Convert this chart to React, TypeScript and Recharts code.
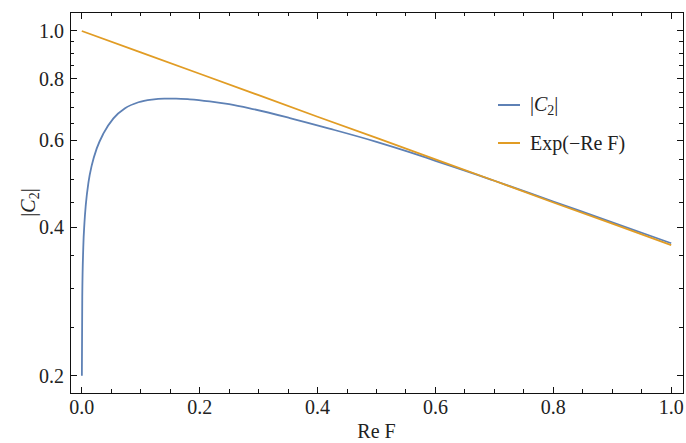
import React from 'react';
import { LineChart, Line, XAxis, YAxis, Legend, ReferenceArea } from 'recharts';

// Re F values and |C2|
const reF = [
  0.00015, 0.0008, 0.0025, 0.0045, 0.0068, 0.0114, 0.0169, 0.0254, 0.0368, 0.0537,
  0.0734, 0.0961, 0.119, 0.14, 0.16, 0.183, 0.217, 0.25, 0.285, 0.353,
  0.42, 0.5, 0.556, 0.6, 0.67, 0.7, 0.8, 0.9, 1.0
];
const c2Abs = [
  0.2, 0.289, 0.363, 0.408, 0.444, 0.494, 0.534, 0.578, 0.62, 0.665,
  0.697, 0.717, 0.726, 0.7292, 0.7295, 0.727, 0.72, 0.7106, 0.697, 0.666,
  0.634, 0.596, 0.568, 0.5455, 0.5115, 0.497, 0.451, 0.4094, 0.3712
];

// Exp(-Re F) reference line
const expX = [0, 0.1, 0.2, 0.3, 0.4, 0.5, 0.6, 0.7, 0.8, 0.9, 1.0];
const expY = [1.0, 0.905, 0.819, 0.741, 0.67, 0.607, 0.549, 0.497, 0.449, 0.407, 0.368];

const xTicks = [
  0, 0.05, 0.1, 0.15, 0.2, 0.25, 0.3, 0.35, 0.4, 0.45, 0.5,
  0.55, 0.6, 0.65, 0.7, 0.75, 0.8, 0.85, 0.9, 0.95, 1.0
];
const yTicks = [
  0.2, 0.25, 0.3, 0.35, 0.4, 0.45, 0.5, 0.55, 0.6, 0.65, 0.7, 0.75, 0.8, 0.85, 0.9, 0.95, 1.0
];

const xDomain = [-0.02, 1.02];
const yDomain = [0.1845, 1.0927];

const c2Data = reF.map((x, i) => ({ x, y: c2Abs[i] }));
const expData = expX.map((x, i) => ({ x, y: expY[i] }));

const FONT = "'Liberation Serif', 'Times New Roman', serif";
const FRAME = '#111';
const BLUE = '#5E81B5';
const ORANGE = '#E19C24';
const FS = 20;

// plot is 613 x 381 px; used only to turn tick sizes into data units
const PX_PER_X = 613 / (xDomain[1] - xDomain[0]);
const PX_PER_LNY = 381 / Math.log(yDomain[1] / yDomain[0]);

const isMajor = (v: number) => Math.abs(v * 5 - Math.round(v * 5)) < 1e-6;
const tickLen = (v: number) => (isMajor(v) ? 6.5 : 4);

const XTick = ({ x, y, payload }: any) =>
  isMajor(payload.value) ? (
    <text x={x} y={y + 21} textAnchor="middle" fontFamily={FONT} fontSize={FS} fill="#222">
      {payload.value.toFixed(1)}
    </text>
  ) : (
    <g />
  );

const YTick = ({ x, y, payload }: any) =>
  isMajor(payload.value) ? (
    <text x={x - 6} y={y} dy="0.35em" textAnchor="end" fontFamily={FONT} fontSize={FS} fill="#222">
      {payload.value.toFixed(1)}
    </text>
  ) : (
    <g />
  );

const YLabel = ({ viewBox }: any) => {
  const cx = viewBox.x + 28;
  const cy = viewBox.y + viewBox.height / 2;
  return (
    <text
      x={cx}
      y={cy}
      dy="0.35em"
      textAnchor="middle"
      transform={`rotate(-90 ${cx} ${cy})`}
      fontFamily={FONT}
      fontSize={FS}
      fill="#222"
    >
      |<tspan fontStyle="italic">C</tspan>
      <tspan fontSize={14} dy={4}>2</tspan>
      <tspan dy={-4}>|</tspan>
    </text>
  );
};

const XLabel = ({ viewBox }: any) => (
  <text
    x={viewBox.x + viewBox.width / 2}
    y={viewBox.y + 45}
    textAnchor="middle"
    fontFamily={FONT}
    fontSize={FS}
    fill="#222"
  >
    Re F
  </text>
);

const LegendBox = ({ payload }: any) => (
  <div style={{ fontFamily: FONT, fontSize: FS, color: '#222' }}>
    {(payload || []).map((entry: any, i: number) => (
      <div key={i} style={{ display: 'flex', alignItems: 'center', height: 38 }}>
        <div style={{ width: 22, height: 2, background: entry.color, marginRight: 10 }} />
        {entry.value === 'C2' ? (
          <span style={{ lineHeight: '20px' }}>
            |<i>C</i>
            <span style={{ fontSize: 14, position: 'relative', top: 4 }}>2</span>|
          </span>
        ) : (
          <span style={{ lineHeight: '20px' }}>{entry.value}</span>
        )}
      </div>
    ))}
  </div>
);

// tick marks drawn as tiny filled areas on the frame
const tickMark = {
  fill: FRAME,
  fillOpacity: 1,
  stroke: 'none',
  shapeRendering: 'crispEdges',
  ifOverflow: 'visible' as const,
};

const App: React.FC = () => {
  const halfX = 0.5 / PX_PER_X;
  const halfY = Math.exp(0.5 / PX_PER_LNY);
  return (
    <div style={{ position: 'absolute', left: 0, top: 0 }}>
      <LineChart width={686} height={443} margin={{ top: 12, right: 3, left: 0, bottom: 0 }}>
        <XAxis
          type="number"
          dataKey="x"
          domain={xDomain}
          allowDataOverflow
          ticks={xTicks}
          interval={0}
          height={50}
          tickSize={0}
          tickMargin={0}
          tickLine={false}
          axisLine={false}
          tick={(p: any) => <XTick {...p} />}
          label={<XLabel />}
        />
        <YAxis
          type="number"
          scale="log"
          domain={yDomain}
          allowDataOverflow
          ticks={yTicks}
          interval={0}
          width={70}
          tickSize={0}
          tickMargin={0}
          tickLine={false}
          axisLine={false}
          tick={(p: any) => <YTick {...p} />}
          label={<YLabel />}
        />
        <ReferenceArea
          x1={xDomain[0]}
          x2={xDomain[1]}
          y1={yDomain[0]}
          y2={yDomain[1]}
          fill="none"
          fillOpacity={0}
          stroke={FRAME}
          strokeWidth={1}
          shapeRendering="crispEdges"
          ifOverflow="visible"
        />
        {xTicks.map((v) => {
          const k = Math.exp(tickLen(v) / PX_PER_LNY);
          return (
            <React.Fragment key={`xt-${v}`}>
              <ReferenceArea
                x1={v - halfX}
                x2={v + halfX}
                y1={yDomain[0]}
                y2={yDomain[0] * k}
                {...tickMark}
              />
              <ReferenceArea
                x1={v - halfX}
                x2={v + halfX}
                y1={yDomain[1] / k}
                y2={yDomain[1]}
                {...tickMark}
              />
            </React.Fragment>
          );
        })}
        {yTicks.map((v) => {
          const d = tickLen(v) / PX_PER_X;
          return (
            <React.Fragment key={`yt-${v}`}>
              <ReferenceArea
                x1={xDomain[0]}
                x2={xDomain[0] + d}
                y1={v / halfY}
                y2={v * halfY}
                {...tickMark}
              />
              <ReferenceArea
                x1={xDomain[1] - d}
                x2={xDomain[1]}
                y1={v / halfY}
                y2={v * halfY}
                {...tickMark}
              />
            </React.Fragment>
          );
        })}
        <Legend
          layout="vertical"
          align="center"
          verticalAlign="middle"
          wrapperStyle={{ position: 'absolute', left: 498, top: 86, width: 180 }}
          content={<LegendBox />}
        />
        <Line
          data={c2Data}
          dataKey="y"
          name="C2"
          type="monotone"
          stroke={BLUE}
          strokeWidth={1.8}
          dot={false}
          isAnimationActive={false}
        />
        <Line
          data={expData}
          dataKey="y"
          name="Exp(−Re F)"
          type="linear"
          stroke={ORANGE}
          strokeWidth={1.8}
          dot={false}
          isAnimationActive={false}
        />
      </LineChart>
    </div>
  );
};

export default App;
